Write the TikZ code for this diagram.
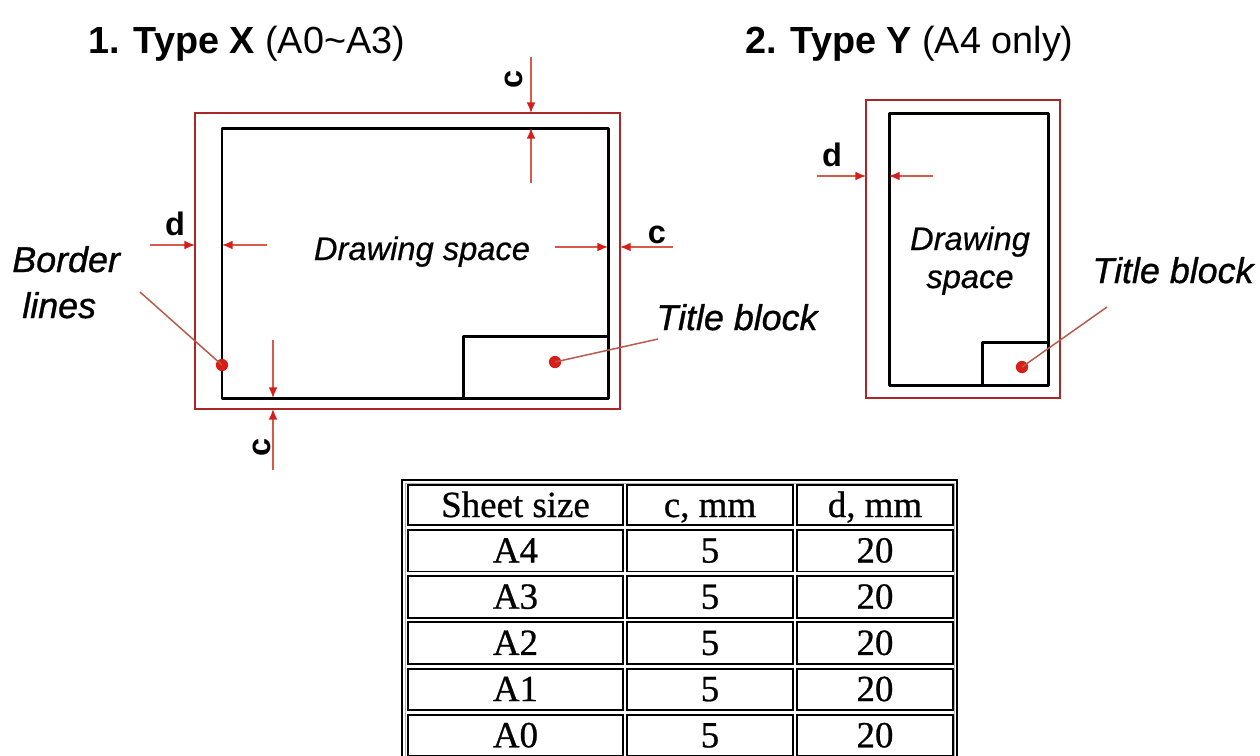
\documentclass[tikz,border=0pt]{standalone}
\usepackage{fontspec}
\setmainfont{Liberation Sans}
\newfontfamily\tabfont[FakeBold=0.7]{Liberation Serif}
\newfontfamily\lblfont[FakeBold=0.9]{Liberation Sans}
\newfontfamily\dsfont[FakeBold=0.5]{Liberation Sans}
\usetikzlibrary{arrows.meta}
\definecolor{frame}{RGB}{168,40,40}
\definecolor{arr}{RGB}{215,30,25}
\definecolor{arrline}{RGB}{215,90,75}
\definecolor{lead}{RGB}{185,90,75}
\begin{document}
\begin{tikzpicture}[x=0.02cm,y=-0.02cm,
  redframe/.style={draw=frame, line width=1.5pt},
  blackframe/.style={draw=black, line width=1.7pt, line join=round},
  dim/.style={draw=arrline, line width=0.85pt, -{Latex[length=6pt,width=5pt,color=arr]}},
  leader/.style={draw=lead, line width=0.85pt},
  reddot/.style={circle, fill=arr, inner sep=0pt, minimum size=7pt},
  lbl/.style={font=\lblfont\itshape\fontsize{20.4}{24}\selectfont, inner sep=0pt},
  dslbl/.style={font=\dsfont\itshape\fontsize{18.6}{22}\selectfont, inner sep=0pt},
  dimlbl/.style={font=\bfseries\fontsize{18.5}{22}\selectfont, inner sep=0pt},
  heading/.style={font=\fontsize{21.5}{26}\selectfont, anchor=base west, inner sep=0pt},
  cell/.style={draw=black, line width=1.1pt},
  celltext/.style={font=\tabfont\fontsize{21}{24}\selectfont, anchor=base, inner sep=0pt}
]
\useasboundingbox (0,0) rectangle (1260,755);
\clip (0,0) rectangle (1260,755);

% headings
\node[heading] (h1) at (88,53) {\textbf{1. Type X} (A0\textasciitilde A3)};
\node[heading] (h2) at (745,53) {\textbf{2. Type Y} (A4 only)};

% ---------- Type X ----------
\draw[redframe] (195,113) rectangle (620,409);
\draw[blackframe] (222,128) rectangle (608,398);
\draw[blackframe] (463,398) -- (463,336) -- (608,336);

\coordinate (xt1) at (531,57);  \coordinate (xt2) at (531,113);
\coordinate (xt3) at (531,183); \coordinate (xt4) at (531,128);
\draw[dim] (xt1) -- (xt2);
\draw[dim] (xt3) -- (xt4);
\coordinate (xl1) at (150,245); \coordinate (xl2) at (195,245);
\coordinate (xl3) at (267,245); \coordinate (xl4) at (222,245);
\draw[dim] (xl1) -- (xl2);
\draw[dim] (xl3) -- (xl4);
\coordinate (xr1) at (555,247); \coordinate (xr2) at (608,247);
\coordinate (xr3) at (673,247); \coordinate (xr4) at (620,247);
\draw[dim] (xr1) -- (xr2);
\draw[dim] (xr3) -- (xr4);
\coordinate (xb1) at (273,340); \coordinate (xb2) at (273,398);
\coordinate (xb3) at (273,470); \coordinate (xb4) at (273,409);
\draw[dim] (xb1) -- (xb2);
\draw[dim] (xb3) -- (xb4);

\node[dimlbl, rotate=90] (ctop) at (514,79) {c};
\node[dimlbl, rotate=90] (cbot) at (262,447) {c};
\node[dimlbl, anchor=base] (dx) at (175,235) {d};
\node[dimlbl, anchor=base] (cright) at (657,243) {c};

\node[dslbl, anchor=base] (dsx) at (422,260) {Drawing space};
\node[lbl, anchor=base west] (bl1) at (12,272) {Border};
\node[lbl, anchor=base west] (bl2) at (22,318) {lines};
\node[lbl, anchor=base] (tbx) at (737,330) {Title block};

\coordinate (blend) at (140,292);
\coordinate (tbxend) at (658,339);
\node[reddot] (dotb) at (222,365) {};
\node[reddot] (dottx) at (555,362) {};
\draw[leader] (dotb.center) -- (blend);
\draw[leader] (dottx.center) -- (tbxend);

% ---------- Type Y ----------
\draw[redframe] (866,100) rectangle (1060,398);
\draw[blackframe] (889,113) rectangle (1048,385);
\draw[blackframe] (982,385) -- (982,342) -- (1048,342);

\coordinate (yl1) at (817,176); \coordinate (yl2) at (866,176);
\coordinate (yl3) at (933,176); \coordinate (yl4) at (889,176);
\draw[dim] (yl1) -- (yl2);
\draw[dim] (yl3) -- (yl4);
\node[dimlbl, anchor=base] (dy) at (832,166) {d};

\node[dslbl, anchor=base] (dsy1) at (970,250) {Drawing};
\node[dslbl, anchor=base] (dsy2) at (970,288) {space};
\node[lbl, anchor=base] (tby) at (1173,283) {Title block};
\coordinate (tbyend) at (1107,307);
\node[reddot] (dotty) at (1022,367) {};
\draw[leader] (dotty.center) -- (tbyend);

% ---------- Table ----------
\draw[draw=black, line width=1.6pt] (402,480) rectangle (957,775);
\draw[draw=gray!60, line width=0.5pt] (405,483) rectangle (954,775);
\draw[cell] (408,485) rectangle (623,525);
\draw[cell] (627,485) rectangle (793,525);
\draw[cell] (797,485) rectangle (953,525);
\node[celltext] (hs) at (515.5,517) {Sheet size};
\node[celltext] (hc) at (710,517) {c, mm};
\node[celltext] (hd) at (875,517) {d, mm};
\foreach \nm/\r in {A4/0,A3/1,A2/2,A1/3,A0/4} {
  \pgfmathsetmacro\tp{530+46.2*\r}
  \pgfmathsetmacro\bt{\tp+41.5}
  \pgfmathsetmacro\bl{\tp+32.5}
  \draw[cell] (408,\tp) rectangle (623,\bt);
  \draw[cell] (627,\tp) rectangle (793,\bt);
  \draw[cell] (797,\tp) rectangle (953,\bt);
  \node[celltext] (s\nm) at (515.5,\bl) {\nm};
  \node[celltext] (c\nm) at (710,\bl) {5};
  \node[celltext] (d\nm) at (875,\bl) {20};
}
\end{tikzpicture}
\end{document}
